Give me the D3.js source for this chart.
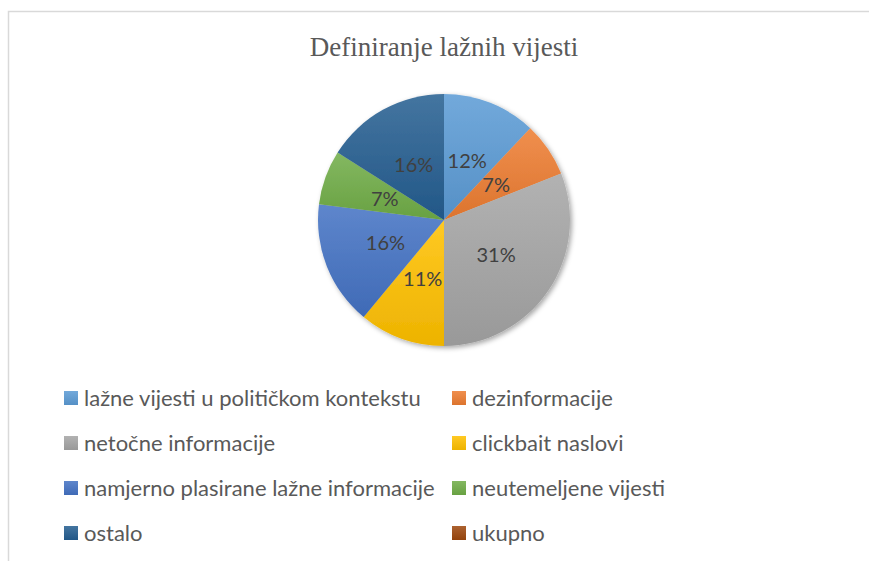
<!DOCTYPE html>
<html>
<head>
<meta charset="utf-8">
<script src="https://cdn.jsdelivr.net/npm/d3@7"></script>
<style>
  body { margin: 0; background: #fff; }
  .legend-text { font-family: Lato, "Open Sans", sans-serif; font-size: 22px; fill: #595959; }
  .slice-label { font-family: Lato, "Open Sans", sans-serif; font-size: 20px; fill: #404040; }
  .title { font-family: "Liberation Serif", "Times New Roman", serif; font-size: 27px; fill: #595959; }
</style>
</head>
<body>
<div id="chart"></div>
<script>
var categories = ['lažne vijesti u političkom kontekstu', 'dezinformacije', 'netočne informacije',
  'clickbait naslovi', 'namjerno plasirane lažne informacije', 'neutemeljene vijesti', 'ostalo', 'ukupno'];
var values = [12, 7, 31, 11, 16, 7, 16, 0];
var colors = ['#5B9BD5', '#ED7D31', '#A5A5A5', '#FFC000', '#4472C4', '#70AD47', '#255E91', '#9E480E'];
var chartTitle = 'Definiranje lažnih vijesti';

(function() {
  var width = 869, height = 561;

  var svg = d3.select("#chart")
    .append("svg")
    .attr("width", width)
    .attr("height", height);

  var defs = svg.append("defs");

  // excel-ish gradient per colour
  colors.forEach(function(c, i) {
    var g = defs.append("linearGradient").attr("id", "grad" + i)
      .attr("x1", "0%").attr("x2", "0%").attr("y1", "0%").attr("y2", "100%");
    g.append("stop").attr("offset", "0%").style("stop-color", d3.interpolateRgb(c, "#fff")(0.14));
    g.append("stop").attr("offset", "100%").style("stop-color", d3.interpolateRgb(c, "#000")(0.07));
  });

  var shadow = defs.append("filter").attr("id", "shadow")
    .attr("x", "-10%").attr("y", "-10%").attr("width", "120%").attr("height", "120%");
  shadow.append("feDropShadow").attr("dx", 2).attr("dy", 2)
    .attr("stdDeviation", 2.5).attr("flood-color", "#000").attr("flood-opacity", 0.35);

  // chart area border (only top and left show in the picture)
  svg.append("rect")
    .attr("x", 8.5).attr("y", 11.5)
    .attr("width", 900).attr("height", 600)
    .attr("fill", "none")
    .attr("stroke", "#d9d9d9")
    .attr("stroke-width", 1.5);

  svg.append("text")
    .attr("class", "title")
    .attr("x", 444)
    .attr("y", 56)
    .attr("text-anchor", "middle")
    .text(chartTitle);

  var data = categories.map(function(name, i) {
    return { name: name, value: values[i], index: i };
  });
  var total = d3.sum(values);

  var radius = 126;
  var pie = d3.pie().sort(null).value(function(d) { return d.value; });
  var arc = d3.arc().innerRadius(0).outerRadius(radius);

  var pieG = svg.append("g")
    .attr("transform", "translate(444,220)");

  var slices = pie(data).filter(function(d) { return d.data.value > 0; });

  pieG.append("g")
    .attr("filter", "url(#shadow)")
    .selectAll("path")
    .data(slices)
    .enter().append("path")
    .attr("d", arc)
    .attr("fill", function(d) { return "url(#grad" + d.data.index + ")"; });

  pieG.selectAll(".slice-label")
    .data(slices)
    .enter().append("text")
    .attr("class", "slice-label")
    .attr("transform", function(d) { return "translate(" + arc.centroid(d) + ")"; })
    .attr("text-anchor", "middle")
    .attr("dy", "0.35em")
    .text(function(d) { return Math.round(d.data.value / total * 100) + "%"; });

  // legend, two columns
  var colX = [64, 452];
  var rowY = d3.scaleLinear().domain([0, 3]).range([398, 533]);

  var legend = svg.selectAll(".legend")
    .data(data)
    .enter().append("g")
    .attr("class", "legend")
    .attr("transform", function(d, i) {
      return "translate(" + colX[i % 2] + "," + rowY(Math.floor(i / 2)) + ")";
    });

  legend.append("rect")
    .attr("x", 0).attr("y", -7)
    .attr("width", 14).attr("height", 14)
    .attr("fill", function(d) { return "url(#grad" + d.index + ")"; });

  legend.append("text")
    .attr("class", "legend-text")
    .attr("x", 20)
    .attr("y", 8)
    .text(function(d) { return d.name; });
})();
</script>
</body>
</html>
